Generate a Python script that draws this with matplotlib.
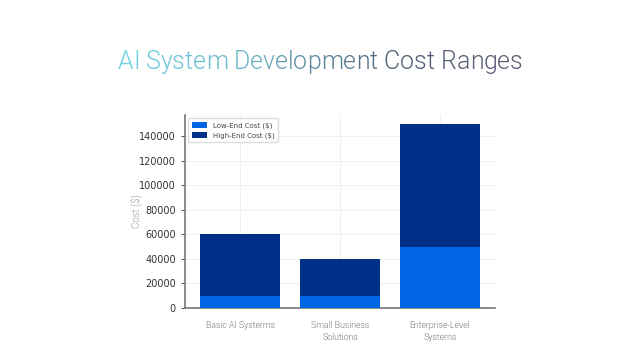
import matplotlib
matplotlib.use("Agg")
import matplotlib.pyplot as plt
import numpy as np
from matplotlib.colors import LinearSegmentedColormap

categories = ["Basic AI Systerms", "Small Business\nSolutions", "Enterprise-Level\nSystems"]
low_end = [10000, 10000, 50000]
high_end = [60000, 40000, 150000]
title = "AI System Development Cost Ranges"

FONT = "Roboto"
fig = plt.figure(figsize=(6.4, 3.6), dpi=100)
ax = fig.add_axes([185/640, 1-308/360, 310/640, 193/360])

x = np.arange(len(categories))
b_low = ax.bar(x, low_end, width=0.8, color="#0066e6", zorder=3, label="Low-End Cost ($)")
b_high = ax.bar(x, high_end, width=0.8, color="#003087", zorder=2, label="High-End Cost ($)")

ax.set_xlim(-0.55, 2.55)
ax.set_ylim(0, 157500)
ax.set_xticks(x)
ax.set_xticklabels(categories, fontsize=6.3, color="#777777", family=FONT, fontweight=300,
                   linespacing=1.55)
ax.set_yticks(np.arange(0, 140001, 20000))
ax.tick_params(axis="y", labelsize=7, colors="#333333", length=3, width=0.6)
ax.tick_params(axis="x", length=0, pad=9)
ax.set_ylabel("Cost ($)", fontsize=7, color="#999999", family=FONT, fontweight=300, labelpad=-2)
ax.grid(True, color="#eeeeee", linewidth=0.6, zorder=0)
ax.set_axisbelow(True)
for s in ["top", "right"]:
    ax.spines[s].set_visible(False)
for s in ["left", "bottom"]:
    ax.spines[s].set_color("#777777")
    ax.spines[s].set_linewidth(1.2)

leg = ax.legend(handles=[b_low, b_high], loc="upper left", fontsize=5, frameon=True,
                framealpha=1, edgecolor="#dddddd", handlelength=2.2, handleheight=0.9,
                borderpad=0.5, labelspacing=0.5)
for t in leg.get_texts():
    t.set_color("#444444")

cmap = LinearSegmentedColormap.from_list("g", ["#6dd3e4", "#6cb3c4", "#50607a", "#5e5e76"])
fig.canvas.draw()
renderer = fig.canvas.get_renderer()
tmp = fig.text(0, 0, title, fontsize=20, family=FONT, fontweight=300)
w20 = tmp.get_window_extent(renderer).width
tmp.remove()
fs = 20 * 405 / w20
tmp = fig.text(0, 0, title, fontsize=fs, family=FONT, fontweight=300)
w = tmp.get_window_extent(renderer).width
tmp.remove()

n = len(title)
x0 = 320 - w / 2
cur_x = x0
base_y = 1 - 69 / 360
for i, ch in enumerate(title):
    fig.text(cur_x / 640, base_y, ch, fontsize=fs, family=FONT, fontweight=300,
             color=cmap(i / (n - 1)), va="baseline")
    tmp = fig.text(0, 0, title[:i + 1], fontsize=fs, family=FONT, fontweight=300)
    pw = tmp.get_window_extent(renderer).width
    tmp.remove()
    cur_x = x0 + pw

fig.savefig("out.png", dpi=100, facecolor="white")
